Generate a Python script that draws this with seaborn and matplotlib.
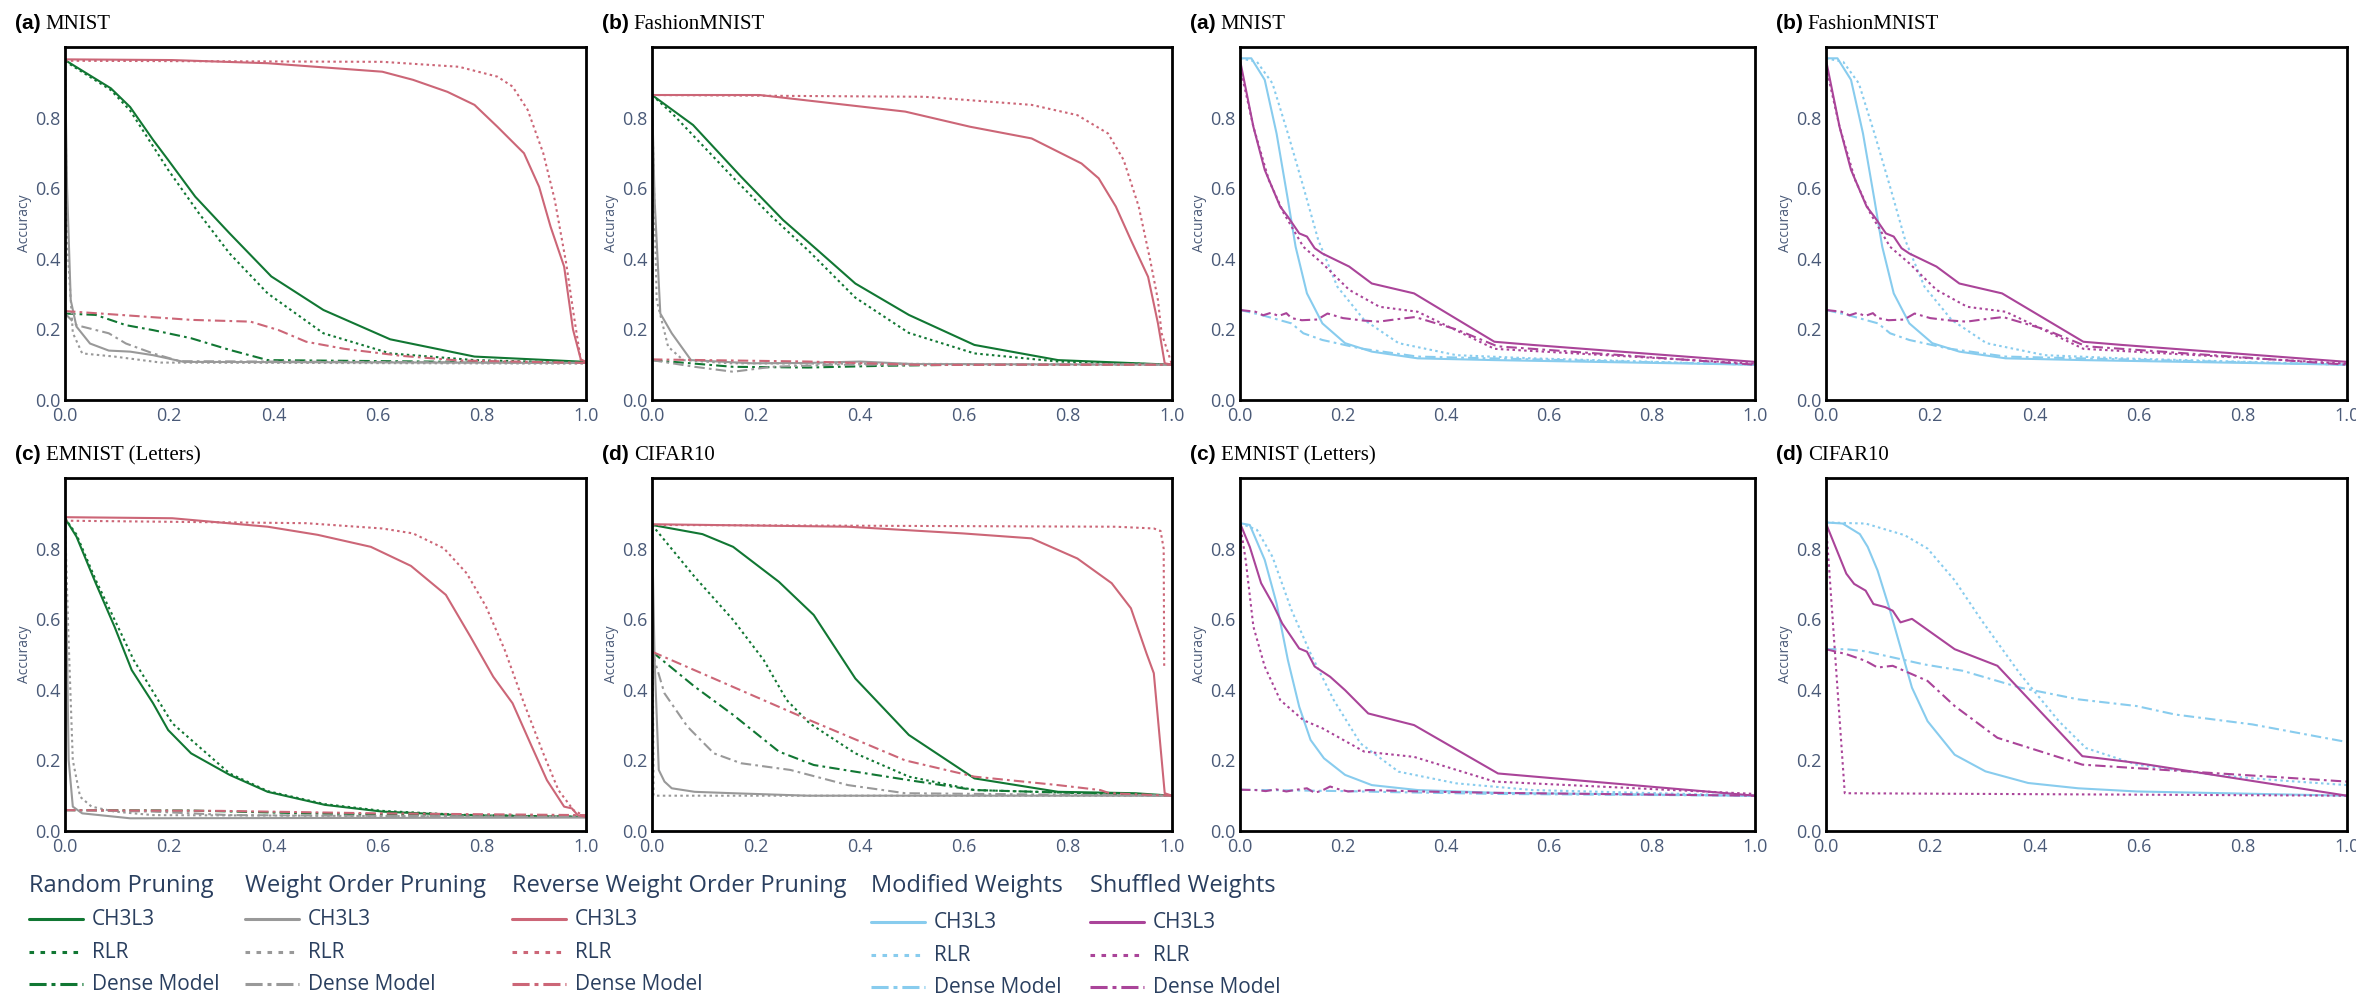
import matplotlib
matplotlib.use("Agg")
import matplotlib.pyplot as plt
import seaborn as sns
from matplotlib.lines import Line2D

# ---------------- data ----------------
# (a) MNIST - pruning
a_rand_ch_x = [0, 0.088, 0.125, 0.169, 0.198, 0.25, 0.316, 0.396, 0.496, 0.624, 0.786, 1.0]
a_rand_ch_y = [0.963, 0.883, 0.83, 0.737, 0.68, 0.576, 0.472, 0.35, 0.255, 0.172, 0.123, 0.108]
a_rand_rlr_x = [0, 0.088, 0.125, 0.198, 0.257, 0.316, 0.389, 0.496, 0.624, 0.786, 1.0]
a_rand_rlr_y = [0.96, 0.878, 0.82, 0.652, 0.529, 0.415, 0.302, 0.189, 0.132, 0.113, 0.105]
a_rand_dm_x = [0, 0.059, 0.117, 0.169, 0.242, 0.316, 0.389, 1.0]
a_rand_dm_y = [0.245, 0.241, 0.212, 0.198, 0.175, 0.142, 0.113, 0.105]
a_wo_ch_x = [0, 0.004, 0.011, 0.022, 0.048, 0.084, 0.125, 0.169, 0.228, 1.0]
a_wo_ch_y = [0.963, 0.6, 0.283, 0.208, 0.16, 0.14, 0.137, 0.127, 0.108, 0.105]
a_wo_rlr_x = [0, 0.004, 0.015, 0.033, 0.095, 0.184, 1.0]
a_wo_rlr_y = [0.96, 0.45, 0.19, 0.132, 0.123, 0.106, 0.103]
a_wo_dm_x = [0, 0.022, 0.084, 0.117, 0.169, 0.22, 1.0]
a_wo_dm_y = [0.245, 0.212, 0.189, 0.16, 0.132, 0.11, 0.105]
a_rev_ch_x = [0, 0.206, 0.389, 0.609, 0.668, 0.734, 0.786, 0.83, 0.881, 0.91, 0.932, 0.958, 0.975, 0.99, 1.0]
a_rev_ch_y = [0.965, 0.963, 0.954, 0.93, 0.907, 0.873, 0.836, 0.774, 0.699, 0.604, 0.491, 0.378, 0.2, 0.115, 0.108]
a_rev_rlr_x = [0, 0.609, 0.756, 0.83, 0.859, 0.888, 0.918, 0.94, 0.962, 0.977, 0.99, 1.0]
a_rev_rlr_y = [0.961, 0.958, 0.944, 0.916, 0.888, 0.822, 0.699, 0.567, 0.387, 0.236, 0.113, 0.105]
a_rev_dm_x = [0, 0.242, 0.356, 0.41, 0.463, 0.536, 0.646, 0.756, 1.0]
a_rev_dm_y = [0.252, 0.227, 0.222, 0.198, 0.165, 0.145, 0.125, 0.112, 0.105]

# (b) FashionMNIST - pruning
b_rand_ch_x = [0, 0.079, 0.171, 0.252, 0.318, 0.391, 0.494, 0.62, 0.781, 1.0]
b_rand_ch_y = [0.864, 0.779, 0.633, 0.51, 0.425, 0.33, 0.241, 0.156, 0.113, 0.1]
b_rand_rlr_x = [0, 0.04, 0.082, 0.156, 0.23, 0.303, 0.391, 0.494, 0.62, 0.781, 1.0]
b_rand_rlr_y = [0.864, 0.81, 0.745, 0.63, 0.52, 0.42, 0.29, 0.19, 0.132, 0.109, 0.1]
b_rand_dm_x = [0, 0.156, 0.3, 0.45, 0.6, 1.0]
b_rand_dm_y = [0.113, 0.094, 0.092, 0.097, 0.1, 0.1]
b_wo_ch_x = [0, 0.005, 0.016, 0.038, 0.075, 0.193, 0.3, 0.4, 0.5, 1.0]
b_wo_ch_y = [0.864, 0.567, 0.245, 0.189, 0.113, 0.104, 0.105, 0.109, 0.102, 0.1]
b_wo_rlr_x = [0, 0.009, 0.031, 0.06, 0.15, 1.0]
b_wo_rlr_y = [0.85, 0.283, 0.151, 0.113, 0.104, 0.1]
b_wo_dm_x = [0, 0.082, 0.156, 0.23, 0.35, 1.0]
b_wo_dm_y = [0.113, 0.094, 0.08, 0.094, 0.1, 0.1]
b_rev_ch_x = [0, 0.207, 0.487, 0.612, 0.73, 0.826, 0.859, 0.892, 0.921, 0.954, 0.973, 0.986, 1.0]
b_rev_ch_y = [0.864, 0.864, 0.817, 0.774, 0.741, 0.67, 0.628, 0.548, 0.453, 0.349, 0.217, 0.104, 0.1]
b_rev_rlr_x = [0, 0.524, 0.73, 0.818, 0.877, 0.907, 0.936, 0.958, 0.973, 0.98, 1.0]
b_rev_rlr_y = [0.864, 0.859, 0.836, 0.807, 0.755, 0.68, 0.548, 0.397, 0.283, 0.189, 0.1]
b_rev_dm_x = [0, 0.3, 0.524, 0.7, 1.0]
b_rev_dm_y = [0.115, 0.109, 0.099, 0.1, 0.1]

# (c) EMNIST (Letters) - pruning
c_rand_ch_x = [0, 0.022, 0.059, 0.095, 0.128, 0.169, 0.198, 0.242, 0.316, 0.389, 0.499, 0.609, 0.756, 1.0]
c_rand_ch_y = [0.886, 0.834, 0.702, 0.579, 0.456, 0.362, 0.286, 0.22, 0.159, 0.111, 0.074, 0.055, 0.045, 0.04]
c_rand_rlr_x = [0, 0.022, 0.059, 0.132, 0.206, 0.316, 0.389, 0.499, 0.609, 0.756, 1.0]
c_rand_rlr_y = [0.886, 0.84, 0.711, 0.484, 0.305, 0.163, 0.113, 0.076, 0.057, 0.046, 0.04]
c_rand_dm_x = [0, 0.242, 0.463, 0.7, 1.0]
c_rand_dm_y = [0.059, 0.058, 0.05, 0.045, 0.042]
c_wo_ch_x = [0, 0.004, 0.007, 0.015, 0.033, 0.066, 0.125, 1.0]
c_wo_ch_y = [0.886, 0.5, 0.201, 0.069, 0.05, 0.045, 0.036, 0.038]
c_wo_rlr_x = [0, 0.006, 0.015, 0.029, 0.051, 0.095, 0.169, 1.0]
c_wo_rlr_y = [0.886, 0.579, 0.2, 0.097, 0.069, 0.055, 0.045, 0.04]
c_wo_dm_x = [0, 0.169, 0.316, 1.0]
c_wo_dm_y = [0.059, 0.055, 0.045, 0.04]
c_rev_ch_x = [0, 0.206, 0.389, 0.485, 0.587, 0.664, 0.731, 0.778, 0.822, 0.859, 0.896, 0.925, 0.958, 0.973, 0.984, 1.0]
c_rev_ch_y = [0.889, 0.886, 0.862, 0.839, 0.805, 0.751, 0.669, 0.551, 0.437, 0.362, 0.239, 0.144, 0.069, 0.064, 0.045, 0.04]
c_rev_rlr_x = [0, 0.463, 0.609, 0.668, 0.727, 0.771, 0.808, 0.844, 0.881, 0.918, 0.947, 0.976, 1.0]
c_rev_rlr_y = [0.879, 0.872, 0.857, 0.843, 0.801, 0.73, 0.636, 0.513, 0.362, 0.22, 0.116, 0.059, 0.04]
c_rev_dm_x = [0, 0.3, 0.6, 1.0]
c_rev_dm_y = [0.059, 0.057, 0.05, 0.045]

# (d) CIFAR10 - pruning
d_rand_ch_x = [0, 0.097, 0.156, 0.244, 0.311, 0.391, 0.494, 0.62, 0.781, 0.929, 1.0]
d_rand_ch_y = [0.867, 0.841, 0.805, 0.706, 0.612, 0.432, 0.272, 0.149, 0.111, 0.107, 0.1]
d_rand_rlr_x = [0, 0.082, 0.156, 0.215, 0.259, 0.303, 0.391, 0.494, 0.62, 1.0]
d_rand_rlr_y = [0.867, 0.72, 0.598, 0.484, 0.371, 0.305, 0.22, 0.154, 0.116, 0.1]
d_rand_dm_x = [0, 0.082, 0.156, 0.244, 0.311, 0.391, 0.494, 0.62, 1.0]
d_rand_dm_y = [0.508, 0.409, 0.329, 0.225, 0.187, 0.168, 0.144, 0.116, 0.1]
d_wo_ch_x = [0, 0.005, 0.013, 0.024, 0.038, 0.082, 0.156, 0.3, 1.0]
d_wo_ch_y = [0.867, 0.484, 0.173, 0.14, 0.121, 0.111, 0.107, 0.1, 0.1]
d_wo_rlr_x = [0, 0.003, 1.0]
d_wo_rlr_y = [0.867, 0.1, 0.1]
d_wo_dm_x = [0, 0.024, 0.068, 0.119, 0.171, 0.266, 0.377, 0.487, 1.0]
d_wo_dm_y = [0.508, 0.39, 0.296, 0.22, 0.192, 0.173, 0.13, 0.107, 0.1]
d_rev_ch_x = [0, 0.377, 0.598, 0.73, 0.818, 0.884, 0.921, 0.951, 0.965, 0.986, 1.0]
d_rev_ch_y = [0.869, 0.862, 0.843, 0.829, 0.772, 0.702, 0.631, 0.503, 0.447, 0.107, 0.1]
d_rev_rlr_x = [0, 0.892, 0.965, 0.978, 0.984, 0.985]
d_rev_rlr_y = [0.867, 0.862, 0.857, 0.85, 0.8, 0.466]
d_rev_dm_x = [0, 0.303, 0.487, 0.62, 0.781, 0.862, 0.88, 1.0]
d_rev_dm_y = [0.508, 0.314, 0.2, 0.154, 0.13, 0.116, 0.107, 0.1]

# (a)/(b) MNIST / FashionMNIST - weight perturbation
ar_mod_ch_x = [0, 0.022, 0.048, 0.071, 0.093, 0.108, 0.13, 0.16, 0.204, 0.256, 0.345, 0.494, 1.0]
ar_mod_ch_y = [0.968, 0.968, 0.907, 0.755, 0.567, 0.434, 0.302, 0.217, 0.161, 0.137, 0.118, 0.113, 0.1]
ar_mod_rlr_x = [0, 0.033, 0.063, 0.093, 0.123, 0.152, 0.189, 0.241, 0.308, 0.42, 0.568, 1.0]
ar_mod_rlr_y = [0.968, 0.958, 0.897, 0.755, 0.604, 0.453, 0.321, 0.227, 0.161, 0.127, 0.118, 0.1]
ar_mod_dm_x = [0, 0.041, 0.1, 0.123, 0.16, 0.234, 0.345, 1.0]
ar_mod_dm_y = [0.255, 0.241, 0.217, 0.189, 0.17, 0.146, 0.123, 0.1]
ar_shuf_ch_x = [0, 0.026, 0.048, 0.078, 0.093, 0.115, 0.13, 0.145, 0.16, 0.212, 0.256, 0.338, 0.494, 0.568, 1.0]
ar_shuf_ch_y = [0.963, 0.774, 0.652, 0.548, 0.519, 0.472, 0.463, 0.43, 0.415, 0.378, 0.33, 0.302, 0.165, 0.156, 0.108]
ar_shuf_rlr_x = [0, 0.026, 0.056, 0.085, 0.123, 0.16, 0.212, 0.271, 0.345, 0.494, 1.0]
ar_shuf_rlr_y = [0.944, 0.774, 0.623, 0.529, 0.434, 0.387, 0.312, 0.264, 0.25, 0.145, 0.103]
ar_shuf_dm_x = [0, 0.03, 0.045, 0.06, 0.075, 0.09, 0.1, 0.12, 0.15, 0.17, 0.2, 0.24, 0.27, 0.3, 0.34, 0.42, 0.5, 1.0]
ar_shuf_dm_y = [0.255, 0.25, 0.24, 0.247, 0.238, 0.246, 0.232, 0.226, 0.228, 0.245, 0.232, 0.225, 0.222, 0.228, 0.235, 0.2, 0.152, 0.1]

# (c) EMNIST (Letters) - weight perturbation
cr_mod_ch_x = [0, 0.019, 0.048, 0.071, 0.093, 0.115, 0.137, 0.163, 0.204, 0.256, 0.345, 0.5, 1.0]
cr_mod_ch_y = [0.872, 0.867, 0.768, 0.645, 0.484, 0.352, 0.258, 0.206, 0.159, 0.13, 0.116, 0.108, 0.1]
cr_mod_rlr_x = [0, 0.033, 0.063, 0.1, 0.137, 0.182, 0.234, 0.308, 0.42, 0.568, 1.0]
cr_mod_rlr_y = [0.872, 0.853, 0.777, 0.626, 0.503, 0.371, 0.248, 0.168, 0.135, 0.116, 0.1]
cr_mod_dm_x = [0, 0.1, 0.2, 0.3, 0.5, 1.0]
cr_mod_dm_y = [0.117, 0.115, 0.113, 0.11, 0.105, 0.1]
cr_shuf_ch_x = [0, 0.019, 0.041, 0.063, 0.082, 0.115, 0.13, 0.145, 0.175, 0.204, 0.249, 0.338, 0.501, 1.0]
cr_shuf_ch_y = [0.872, 0.805, 0.702, 0.645, 0.588, 0.517, 0.508, 0.466, 0.437, 0.399, 0.333, 0.3, 0.163, 0.1]
cr_shuf_rlr_x = [0, 0.011, 0.026, 0.048, 0.078, 0.123, 0.16, 0.241, 0.338, 0.494, 1.0]
cr_shuf_rlr_y = [0.872, 0.768, 0.579, 0.466, 0.371, 0.314, 0.291, 0.225, 0.21, 0.14, 0.105]
cr_shuf_dm_x = [0, 0.03, 0.05, 0.07, 0.09, 0.11, 0.13, 0.145, 0.16, 0.175, 0.19, 0.21, 0.25, 0.35, 0.5, 1.0]
cr_shuf_dm_y = [0.117, 0.116, 0.113, 0.118, 0.112, 0.117, 0.121, 0.108, 0.115, 0.126, 0.119, 0.112, 0.116, 0.112, 0.108, 0.1]

# (d) CIFAR10 - weight perturbation
dr_mod_ch_x = [0, 0.032, 0.065, 0.08, 0.099, 0.121, 0.143, 0.165, 0.195, 0.247, 0.306, 0.388, 0.484, 0.596, 1.0]
dr_mod_ch_y = [0.874, 0.871, 0.841, 0.805, 0.738, 0.634, 0.52, 0.406, 0.311, 0.216, 0.169, 0.136, 0.121, 0.112, 0.1]
dr_mod_rlr_x = [0, 0.076, 0.151, 0.195, 0.247, 0.299, 0.373, 0.447, 0.499, 0.596, 0.744, 0.855, 1.0]
dr_mod_rlr_y = [0.874, 0.871, 0.838, 0.8, 0.71, 0.596, 0.444, 0.311, 0.235, 0.188, 0.159, 0.145, 0.13]
dr_mod_dm_x = [0, 0.039, 0.076, 0.188, 0.262, 0.373, 0.484, 0.596, 0.67, 0.818, 1.0]
dr_mod_dm_y = [0.515, 0.515, 0.509, 0.472, 0.454, 0.406, 0.373, 0.354, 0.33, 0.302, 0.252]
dr_shuf_ch_x = [0, 0.039, 0.054, 0.076, 0.091, 0.114, 0.128, 0.143, 0.165, 0.247, 0.329, 0.492, 0.596, 1.0]
dr_shuf_ch_y = [0.871, 0.729, 0.7, 0.681, 0.643, 0.634, 0.624, 0.591, 0.601, 0.515, 0.468, 0.212, 0.193, 0.1]
dr_shuf_rlr_x = [0, 0.036, 1.0]
dr_shuf_rlr_y = [0.871, 0.107, 0.1]
dr_shuf_dm_x = [0, 0.039, 0.076, 0.099, 0.128, 0.195, 0.247, 0.329, 0.492, 0.596, 1.0]
dr_shuf_dm_y = [0.515, 0.501, 0.482, 0.463, 0.468, 0.425, 0.354, 0.264, 0.188, 0.178, 0.14]

panel_letters = ["(a)", "(b)", "(c)", "(d)"]
panel_names = ["MNIST", "FashionMNIST", "EMNIST (Letters)", "CIFAR10"]
x_ticks = [0.0, 0.2, 0.4, 0.6, 0.8, 1.0]
y_ticks = [0.0, 0.2, 0.4, 0.6, 0.8]
series_labels = ["CH3L3", "RLR", "Dense Model"]
left_groups = ["Random Pruning", "Weight Order Pruning", "Reverse Weight Order Pruning"]
right_groups = ["Modified Weights", "Shuffled Weights"]

# ---------------- style ----------------
sns.set_theme(style="white")
plt.rcParams["font.family"] = ["Open Sans", "DejaVu Sans"]

GREEN, GREY, ROSE = "#117733", "#999999", "#CC6677"
CYAN, PURPLE = "#88CCEE", "#AA4499"
TICKC = "#4a5a78"
TEXTC = "#2a3f5f"
LW = 1.5
DASH = {"ch": "-", "rlr": (0, (1.2, 1.6)), "dm": (0, (5.0, 2.0, 1.3, 2.0))}

W, H = 2356, 997
fig = plt.figure(figsize=(W / 100, H / 100), dpi=100)


def fx(px):
    return px / W


def fy(py):
    return 1 - py / H


cols = [(65, 521), (652, 520), (1240, 515), (1826, 521)]
rows = [(47, 400), (478, 831)]

left_data = [
    [(a_rand_ch_x, a_rand_ch_y), (a_rand_rlr_x, a_rand_rlr_y), (a_rand_dm_x, a_rand_dm_y),
     (a_wo_ch_x, a_wo_ch_y), (a_wo_rlr_x, a_wo_rlr_y), (a_wo_dm_x, a_wo_dm_y),
     (a_rev_ch_x, a_rev_ch_y), (a_rev_rlr_x, a_rev_rlr_y), (a_rev_dm_x, a_rev_dm_y)],
    [(b_rand_ch_x, b_rand_ch_y), (b_rand_rlr_x, b_rand_rlr_y), (b_rand_dm_x, b_rand_dm_y),
     (b_wo_ch_x, b_wo_ch_y), (b_wo_rlr_x, b_wo_rlr_y), (b_wo_dm_x, b_wo_dm_y),
     (b_rev_ch_x, b_rev_ch_y), (b_rev_rlr_x, b_rev_rlr_y), (b_rev_dm_x, b_rev_dm_y)],
    [(c_rand_ch_x, c_rand_ch_y), (c_rand_rlr_x, c_rand_rlr_y), (c_rand_dm_x, c_rand_dm_y),
     (c_wo_ch_x, c_wo_ch_y), (c_wo_rlr_x, c_wo_rlr_y), (c_wo_dm_x, c_wo_dm_y),
     (c_rev_ch_x, c_rev_ch_y), (c_rev_rlr_x, c_rev_rlr_y), (c_rev_dm_x, c_rev_dm_y)],
    [(d_rand_ch_x, d_rand_ch_y), (d_rand_rlr_x, d_rand_rlr_y), (d_rand_dm_x, d_rand_dm_y),
     (d_wo_ch_x, d_wo_ch_y), (d_wo_rlr_x, d_wo_rlr_y), (d_wo_dm_x, d_wo_dm_y),
     (d_rev_ch_x, d_rev_ch_y), (d_rev_rlr_x, d_rev_rlr_y), (d_rev_dm_x, d_rev_dm_y)],
]
right_data = [
    [(ar_mod_ch_x, ar_mod_ch_y), (ar_mod_rlr_x, ar_mod_rlr_y), (ar_mod_dm_x, ar_mod_dm_y),
     (ar_shuf_ch_x, ar_shuf_ch_y), (ar_shuf_rlr_x, ar_shuf_rlr_y), (ar_shuf_dm_x, ar_shuf_dm_y)],
    [(ar_mod_ch_x, ar_mod_ch_y), (ar_mod_rlr_x, ar_mod_rlr_y), (ar_mod_dm_x, ar_mod_dm_y),
     (ar_shuf_ch_x, ar_shuf_ch_y), (ar_shuf_rlr_x, ar_shuf_rlr_y), (ar_shuf_dm_x, ar_shuf_dm_y)],
    [(cr_mod_ch_x, cr_mod_ch_y), (cr_mod_rlr_x, cr_mod_rlr_y), (cr_mod_dm_x, cr_mod_dm_y),
     (cr_shuf_ch_x, cr_shuf_ch_y), (cr_shuf_rlr_x, cr_shuf_rlr_y), (cr_shuf_dm_x, cr_shuf_dm_y)],
    [(dr_mod_ch_x, dr_mod_ch_y), (dr_mod_rlr_x, dr_mod_rlr_y), (dr_mod_dm_x, dr_mod_dm_y),
     (dr_shuf_ch_x, dr_shuf_ch_y), (dr_shuf_rlr_x, dr_shuf_rlr_y), (dr_shuf_dm_x, dr_shuf_dm_y)],
]
left_colors = [GREEN, GREY, ROSE]
right_colors = [CYAN, PURPLE]
kinds = ["ch", "rlr", "dm"]

titles = []


def make_axes(col, row, series, colors, idx):
    left, width = cols[col]
    top, bottom = rows[row]
    ax = fig.add_axes([fx(left), fy(bottom), width / W, (bottom - top) / H])
    for i, (xs, ys) in enumerate(series):
        color = colors[i // 3]
        sns.lineplot(x=xs, y=ys, ax=ax, color=color, linewidth=LW,
                     estimator=None, sort=False, errorbar=None)
        ax.lines[-1].set_linestyle(DASH[kinds[i % 3]])
        ax.lines[-1].set_solid_joinstyle("round")
    ax.set_xlim(0, 1)
    ax.set_ylim(0, 1)
    ax.set_xticks(x_ticks)
    ax.set_xticklabels([f"{v:.1f}" for v in x_ticks])
    ax.set_yticks(y_ticks)
    ax.set_yticklabels([f"{v:.1f}" for v in y_ticks])
    ax.tick_params(length=0, labelsize=13, labelcolor=TICKC)
    ax.tick_params(axis="x", pad=5)
    ax.tick_params(axis="y", pad=3)
    ax.set_xlabel("")
    ax.set_ylabel("Accuracy", fontsize=10, color=TICKC)
    ax.yaxis.set_label_coords(-33 / width, 0.5)
    for s in ax.spines.values():
        s.set_visible(True)
        s.set_color("black")
        s.set_linewidth(2.0)
        s.set_zorder(5)
    ax.grid(False)
    t = fig.text(fx(left - 50), fy(top - 18), panel_letters[idx], fontsize=15,
                 fontweight="bold", family=["Liberation Sans", "DejaVu Sans"],
                 color="black", va="baseline", ha="left")
    titles.append((t, panel_names[idx]))
    return ax


for k in range(4):
    col = k % 2
    row = k // 2
    make_axes(col, row, left_data[k], left_colors, k)
    make_axes(col + 2, row, right_data[k], right_colors, k)

# titles: second part in serif right after the bold letter
fig.canvas.draw()
renderer = fig.canvas.get_renderer()
for t, name in titles:
    bb = t.get_window_extent(renderer)
    x0, y0 = t.get_position()
    fig.text(bb.x1 / W + 5 / W, y0, name, fontsize=15,
             family=["Liberation Serif", "DejaVu Serif"], color="black",
             va="baseline", ha="left")

# ---------------- legends ----------------
leg_groups = [(left_groups[0], GREEN, 29, 0), (left_groups[1], GREY, 245, 0),
              (left_groups[2], ROSE, 512, 0), (right_groups[0], CYAN, 871, 3),
              (right_groups[1], PURPLE, 1090, 3)]
LEG_DASH = {"ch": "-", "rlr": (0, (1.5, 2.1)), "dm": (0, (5.6, 1.6, 1.3, 1.6))}
header_y = 886
row_ys = [919, 952, 984]
for name, color, x0, off in leg_groups:
    fig.text(fx(x0), fy(header_y), name, fontsize=17, color=TEXTC,
             va="center", ha="left")
    for j, lab in enumerate(series_labels):
        yy = row_ys[j] + off
        fig.add_artist(Line2D([fx(x0), fx(x0 + 54)], [fy(yy), fy(yy)],
                              transform=fig.transFigure, color=color, lw=2.2,
                              linestyle=LEG_DASH[kinds[j]]))
        fig.text(fx(x0 + 63), fy(yy), lab, fontsize=15, color=TEXTC,
                 va="center", ha="left")

fig.savefig("out.png", dpi=100, facecolor="white")
